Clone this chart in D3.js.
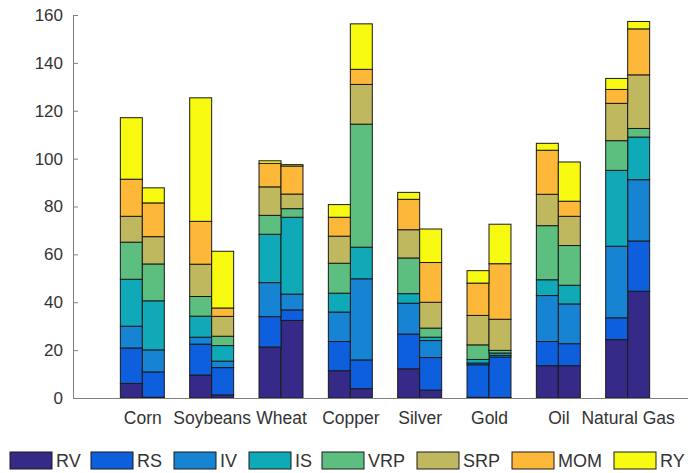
<!DOCTYPE html>
<html><head><meta charset="utf-8">
<script src="https://cdn.jsdelivr.net/npm/d3@7"></script>
<style>body{margin:0;background:#fff;}svg{display:block;font-family:"Liberation Sans",Arial,sans-serif;}</style>
</head><body>
<svg id="chart" width="688" height="473"></svg>
<script>
const categories = ["Corn","Soybeans","Wheat","Copper","Silver","Gold","Oil","Natural Gas"];
const seriesNames = ["RV","RS","IV","IS","VRP","SRP","MOM","RY"];
const colors = ["#352A87","#0D5FDD","#1783D3","#0FA9B8","#5CBE7F","#BFB85E","#FDB83A","#F8F910"];
// values: index 2*i + j  (category i, bar j = 0 left / 1 right)
const RV  = [6.1, 0.3, 9.6, 1.3, 21.3, 32.4, 11.4, 3.9, 12.2, 3.3, 0.3, 0.2, 13.5, 13.5, 24.4, 44.6];
const RS  = [14.8, 10.6, 12.9, 11.4, 12.7, 4.4, 12.2, 12.0, 14.5, 13.6, 13.6, 16.9, 10.1, 9.2, 9.1, 21.0];
const IV  = [9.1, 9.2, 2.9, 2.7, 14.2, 6.6, 12.3, 33.9, 12.9, 7.1, 0.7, 0.7, 19.2, 16.6, 29.9, 25.6];
const IS  = [19.6, 20.5, 8.8, 6.5, 20.2, 32.1, 7.9, 13.2, 4.0, 1.4, 1.5, 1.0, 6.6, 7.8, 31.7, 17.8];
const VRP = [15.5, 15.4, 8.2, 3.9, 7.9, 3.6, 12.5, 51.4, 14.9, 3.8, 6.1, 1.1, 22.6, 16.6, 12.4, 3.6];
const SRP = [10.8, 11.4, 13.5, 8.3, 11.9, 6.1, 11.3, 16.6, 11.8, 10.8, 12.3, 13.0, 13.1, 12.2, 15.6, 22.4];
const MOM = [15.5, 14.1, 17.9, 3.5, 9.8, 11.7, 7.9, 6.3, 12.7, 16.6, 13.5, 23.2, 18.4, 6.3, 5.8, 19.2];
const RY  = [25.7, 6.3, 51.6, 23.7, 1.1, 0.6, 5.3, 19.0, 2.9, 14.0, 5.2, 16.5, 2.9, 16.4, 4.6, 3.1];
const yTicks = [0,20,40,60,80,100,120,140,160];

const seriesValues = [RV,RS,IV,IS,VRP,SRP,MOM,RY];
const svg = d3.select("#chart");
const x = d3.scaleLinear().domain([0, 9]).range([73, 697]);
const y = d3.scaleLinear().domain([0, 160]).range([398, 15]);
const barW = 0.317;
const font = "Liberation Sans, Arial, sans-serif";

const rows = d3.range(16).map(k => {
  const r = {cat: Math.floor(k/2), side: k % 2};
  seriesNames.forEach((s, si) => r[s] = seriesValues[si][k]);
  return r;
});
const stacked = d3.stack().keys(seriesNames)(rows);

svg.append("defs").append("clipPath").attr("id","pc")
  .append("rect").attr("x",73).attr("y",0).attr("width",615).attr("height",400);

svg.append("g").selectAll("line").data(categories).join("line")
  .attr("x1",(d,i)=>x(i+1)).attr("x2",(d,i)=>x(i+1))
  .attr("y1",y(0)).attr("y2",y(0)-5).attr("stroke","#808080");

const g = svg.append("g").attr("clip-path","url(#pc)");
stacked.forEach((layer, si) => {
  g.append("g").selectAll("rect").data(layer).join("rect")
    .attr("x", d => x(d.data.cat + 1 + (d.data.side === 0 ? -barW : 0)))
    .attr("width", x(barW) - x(0))
    .attr("y", d => y(d[1]))
    .attr("height", d => y(d[0]) - y(d[1]))
    .attr("fill", colors[si])
    .attr("stroke", "#1a1a1a").attr("stroke-width", 1);
});

const yAxis = d3.axisLeft(y).tickValues(yTicks).tickSize(-5).tickPadding(10);
const ya = svg.append("g").attr("transform","translate(73,0)").call(yAxis);
ya.select(".domain").attr("stroke","#808080").attr("d","M0.5,15V398.5");
ya.selectAll(".tick line").attr("stroke","#808080");
ya.selectAll(".tick text").attr("fill","#333").style("font-size","17px").attr("font-family",font);

svg.append("line").attr("x1",73).attr("x2",688).attr("y1",398.5).attr("y2",398.5).attr("stroke","#808080");

const xAxis = d3.axisBottom(x).tickValues(d3.range(1,9)).tickFormat(d => categories[d-1]).tickSize(0).tickPadding(14);
const xa = svg.append("g").attr("transform","translate(0,398)").call(xAxis);
xa.select(".domain").remove();
xa.selectAll(".tick text").attr("fill","#333").style("font-size","17.5px").attr("font-family",font);

const legX = [10, 91, 174, 249, 322, 417, 512, 614];
const leg = svg.append("g");
seriesNames.forEach((s, i) => {
  leg.append("rect").attr("x", legX[i]).attr("y", 452).attr("width", 42).attr("height", 17)
    .attr("fill", colors[i]).attr("stroke", "#1a1a1a").attr("stroke-width", 1);
  leg.append("text").attr("x", legX[i] + 46).attr("y", 467).text(s)
    .attr("fill","#333").style("font-size","18px");
});
</script>
</body></html>
